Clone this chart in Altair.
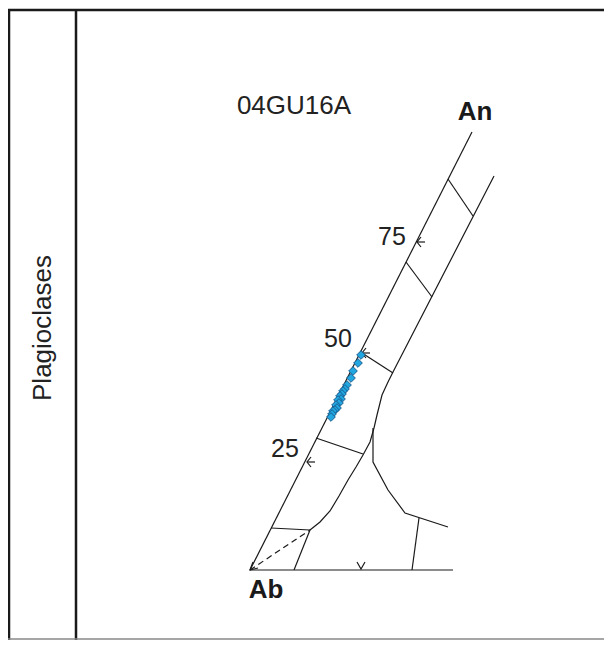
import altair as alt
import pandas as pd

# ---- diagram geometry (diagram coordinates, y grows downward) ----
paths = {
    "edge_Ab_An": [(250, 570), (472, 132)],
    "base_Ab_Or": [(250, 570), (453, 570)],
    "solvus_right": [(494, 176), (393, 372), (388, 382), (382, 395), (377, 415), (374, 428)],
    "solvus_left": [(374, 428), (370, 442), (363, 455), (356, 467), (348, 480), (339, 496), (330, 511), (320, 522), (310, 530)],
    "solvus_branch": [(373, 428), (373, 462), (388, 490), (405, 513), (448, 527)],
    "tie_albite": [(271, 528), (310, 530)],
    "drop_albite": [(310, 530), (294, 570)],
    "drop_right": [(419, 518), (412, 570)],
    "tie_25": [(316, 438), (363, 454)],
    "tie_50": [(362, 353), (393, 373)],
    "tie_75": [(406, 262), (432, 297)],
    "tie_90": [(448, 179), (473, 216)],
    "arrow_25": [(311, 457), (307, 462), (311, 467)],
    "arrow_25b": [(307, 462), (315, 462)],
    "arrow_50": [(366, 348), (362, 353), (366, 358)],
    "arrow_50b": [(362, 353), (370, 353)],
    "arrow_75": [(421, 237), (417, 242), (421, 247)],
    "arrow_75b": [(417, 242), (425, 242)],
    "arrow_base": [(357, 562), (361, 569), (365, 562)],
    "arrow_Ab": [(253, 562), (250, 570), (258, 568)],
}
dashed_paths = {
    "dash_Ab": [(250, 570), (310, 530)],
}
frame_paths = {
    "top": [(8, 10), (604, 10)],
    "left": [(9, 10), (9, 640)],
    "divider": [(76, 10), (76, 640)],
}
bottom_paths = {
    "bottom": [(8, 639), (604, 639)],
}

# ---- plagioclase analyses (sample 04GU16A) ----
pts_x = [361, 358, 353, 351, 347, 345, 343, 342, 340, 341, 338, 339, 336, 337, 335, 333, 332, 331]
pts_y = [355, 363, 371, 378, 385, 389, 391, 394, 396, 399, 400, 403, 405, 408, 410, 411, 414, 417]

# ---- labels ----
sample_label = ["04GU16A"]
sample_x = [294]
sample_y = [106]
tick_labels = ["75", "50", "25"]
tick_x = [392, 338, 285]
tick_y = [237, 339, 449]
bold_labels = ["An", "Ab"]
bold_x = [475, 266]
bold_y = [112, 590]
side_label = ["Plagioclases"]
side_x = [43]
side_y = [328]


def to_df(d):
    rows = []
    for name, pts in d.items():
        for i, (x, y) in enumerate(pts):
            rows.append({"path": name, "order": i, "x": x, "y": y})
    return pd.DataFrame(rows)


xs = alt.Scale(domain=[8, 604], nice=False, zero=False)
ys = alt.Scale(domain=[8, 640], nice=False, zero=False, reverse=True)
X = alt.X("x:Q", scale=xs, axis=None)
Y = alt.Y("y:Q", scale=ys, axis=None)


def line_layer(d, **kw):
    return alt.Chart(to_df(d)).mark_line(**kw).encode(
        x=X, y=Y, detail="path:N", order="order:Q"
    )


def text_layer(xv, yv, tv, **kw):
    return alt.Chart(pd.DataFrame({"x": xv, "y": yv, "t": tv})).mark_text(
        font="Liberation Sans, Arial, sans-serif", align="center", baseline="middle", **kw
    ).encode(x=X, y=Y, text="t:N")


lines = line_layer(paths, color="#1a1a1a", strokeWidth=1.2)
dashed = line_layer(dashed_paths, color="#1a1a1a", strokeWidth=1.2, strokeDash=[6, 4])
frame = line_layer(frame_paths, color="#1a1a1a", strokeWidth=2.5)
bottom = line_layer(bottom_paths, color="#888888", strokeWidth=1.5)

points = alt.Chart(pd.DataFrame({"x": pts_x, "y": pts_y})).mark_point(
    shape="diamond", filled=True, fill="#22a6e0", stroke="#1a5f92",
    strokeWidth=1, size=75, opacity=1
).encode(x=X, y=Y)

stxt = text_layer(sample_x, sample_y, sample_label, fontSize=26, color="#222222")
ttxt = text_layer(tick_x, tick_y, tick_labels, fontSize=25, color="#222222")
btxt = text_layer(bold_x, bold_y, bold_labels, fontSize=26, fontWeight="bold", color="#1a1a1a")
ptxt = text_layer(side_x, side_y, side_label, fontSize=26, color="#222222", angle=270)

chart = alt.layer(frame, bottom, lines, dashed, points, stxt, ttxt, btxt, ptxt).properties(
    width=596, height=632, autosize=alt.AutoSizeParams(type="none"), padding=0
).configure_view(stroke=None)

chart.save("out.html", embed_options={"renderer": "svg", "actions": False})
